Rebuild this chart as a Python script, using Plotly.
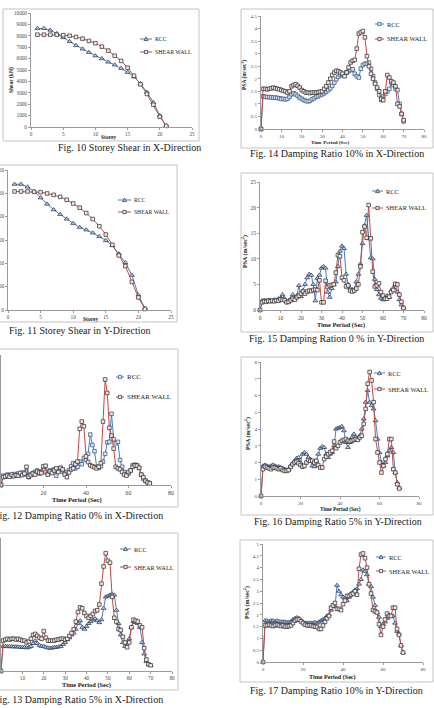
import plotly.graph_objects as go

W, H = 434, 708


def fx(p):
    return p / W


def fy(p):
    return 1 - p / H


# ---------------- DATA ----------------
STOREY = [1, 2, 3, 4, 5, 6, 7, 8, 9, 10, 11, 12, 13, 14, 15, 16, 17, 18, 19, 20, 21]
SHEAR_X_RCC = [8650, 8650, 8500, 8200, 7850, 7500, 7150, 6850, 6550, 6250, 6000,
               5700, 5450, 5150, 4800, 4400, 3800, 3050, 2150, 1000, 100]
SHEAR_X_SW = [8100, 8100, 8100, 8100, 8050, 8000, 7900, 7750, 7550, 7350, 7050,
              6700, 6250, 5800, 5200, 4500, 3750, 2900, 1950, 900, 100]
SHEAR_Y_RCC = [10780, 10780, 10550, 10160, 9620, 9080, 8600, 8200, 7800, 7430, 7090,
               6870, 6610, 6300, 5960, 5530, 4820, 4060, 2980, 1280, 140]
SHEAR_Y_SW = [10160, 10160, 10160, 10130, 10100, 9990, 9870, 9700, 9450, 9130, 8770,
              8310, 7800, 7180, 6470, 5590, 4680, 3770, 2410, 1080, 90]

TIME = list(range(0, 71))

# Fig. 12  damping 0 %, X direction
PSA_X0_RCC = [0,
              1.8, 1.6, 2.0, 1.9, 1.7, 2.1, 1.8, 2.2, 1.9, 2.4,
              2.0, 2.6, 1.5, 2.0, 2.3, 2.5, 2.8, 2.2, 2.6, 2.9,
              2.5, 2.2, 2.8, 2.7, 3.0, 1.8, 3.0, 3.3, 2.6, 2.2,
              2.5, 2.8, 3.6, 4.2, 3.2, 3.5, 4.5, 4.0, 5.2, 4.8,
              6.0, 9.7, 7.7, 6.5, 3.5, 3.3, 3.6, 4.5, 6.0, 8.2,
              8.3, 13.7, 8.8, 8.0, 8.3, 4.8, 3.5, 2.5, 2.0, 2.2,
              2.8, 3.8, 3.9, 3.8, 3.3, 2.0, 1.2, 0.8, 0.5, 0.3]
PSA_X0_SW = [0,
             1.5, 1.6, 1.8, 1.6, 2.0, 1.7, 1.9, 1.8, 2.3, 1.9,
             2.2, 3.5, 1.6, 1.9, 2.2, 2.0, 2.6, 2.4, 2.3, 3.6,
             3.7, 2.0, 2.6, 2.3, 2.8, 3.2, 2.5, 3.3, 3.0, 2.0,
             1.5, 2.4, 3.0, 3.2, 4.0, 4.5, 10.8, 12.2, 11.3, 5.5,
             4.4, 3.8, 3.6, 3.4, 3.2, 3.5, 4.2, 12.2, 20.3, 17.7,
             11.0, 9.5, 7.0, 3.5, 3.2, 3.0, 2.5, 2.0, 1.8, 2.5,
             2.8, 3.5, 3.8, 3.7, 3.3, 2.0, 1.5, 0.8, 0.5, 0.3]

# Fig. 13  damping 5 %, X direction
PSA_X5_RCC = [0,
              1.3, 1.3, 1.28, 1.3, 1.28, 1.27, 1.28, 1.27, 1.25, 1.25,
              1.25, 1.22, 1.25, 1.3, 1.45, 1.6, 1.45, 1.35, 1.3, 1.3,
              1.25, 1.22, 1.2, 1.22, 1.25, 1.25, 1.28, 1.3, 1.4, 1.5,
              1.65, 1.75, 1.9, 2.0, 2.2, 2.5, 2.65, 2.3, 2.2, 2.35,
              2.5, 2.6, 2.7, 2.75, 2.65, 2.55, 2.7, 3.3, 3.9, 3.95,
              4.0, 4.05, 4.0, 3.2, 2.5, 1.9, 1.5, 1.3, 1.5, 1.7,
              2.3, 2.6, 2.55, 2.5, 2.3, 1.5, 0.9, 0.5, 0.35, 0.3]
PSA_X5_SW = [0,
             1.6, 1.65, 1.7, 1.65, 1.7, 1.7, 1.65, 1.7, 1.65, 1.6,
             1.6, 1.5, 1.55, 1.7, 1.9, 1.95, 1.85, 1.75, 1.7, 2.1,
             1.75, 1.6, 1.6, 1.6, 1.6, 1.65, 1.65, 1.7, 1.7, 1.65,
             1.7, 1.85, 2.0, 2.2, 2.6, 3.1, 3.35, 3.3, 3.05, 2.9,
             2.8, 2.9, 3.0, 3.15, 3.2, 3.5, 4.6, 5.5, 6.2, 5.8,
             5.7, 3.9, 2.8, 2.6, 2.2, 2.15, 1.8, 1.5, 1.25, 1.5,
             2.3, 2.7, 2.65, 2.6, 2.4, 2.3, 1.2, 0.6, 0.35, 0.3]

# Fig. 14  damping 10 %, X direction
PSA_X10_RCC = [0,
               1.30, 1.28, 1.27, 1.27, 1.26, 1.25, 1.25, 1.24, 1.22, 1.20,
               1.20, 1.18, 1.20, 1.28, 1.38, 1.42, 1.38, 1.32, 1.25, 1.20,
               1.15, 1.12, 1.10, 1.12, 1.18, 1.22, 1.28, 1.30, 1.35, 1.38,
               1.42, 1.48, 1.55, 1.62, 1.72, 1.85, 1.98, 2.08, 2.15, 2.15,
               2.18, 2.25, 2.30, 2.35, 2.38, 2.20, 2.10, 2.05, 2.40, 2.55,
               2.60, 2.60, 2.65, 2.40, 2.10, 1.85, 1.60, 1.35, 1.15, 1.30,
               1.40, 1.50, 1.60, 1.85, 1.75, 1.60, 1.55, 1.00, 0.60, 0.30]
PSA_X10_SW = [0,
              1.60, 1.60, 1.58, 1.60, 1.62, 1.65, 1.62, 1.60, 1.58, 1.55,
              1.52, 1.50, 1.45, 1.50, 1.70, 1.75, 1.78, 1.72, 1.65, 1.55,
              1.50, 1.45, 1.45, 1.43, 1.45, 1.45, 1.45, 1.47, 1.48, 1.50,
              1.60, 1.70, 1.85, 2.00, 2.15, 2.25, 2.32, 2.30, 2.25, 2.20,
              2.10, 2.25, 2.45, 2.65, 2.72, 2.75, 3.20, 3.80, 3.85, 3.90,
              3.65, 2.90, 2.50, 2.20, 2.00, 1.80, 1.65, 1.50, 1.20, 1.15,
              1.50, 2.15, 2.05, 1.90, 1.85, 1.70, 1.00, 0.90, 0.60, 0.35]

# Fig. 15  damping 0 %, Y direction
PSA_Y0_RCC = [0,
              1.8, 1.9, 1.8, 1.9, 1.9, 1.8, 2.0, 1.9, 2.2, 2.3,
              3.0, 2.2, 1.6, 1.8, 2.2, 3.0, 2.3, 2.8, 4.8, 2.6,
              3.8, 5.0, 6.3, 7.0, 6.8, 5.0, 1.8, 6.2, 6.8, 8.2,
              8.5, 8.2, 3.5, 2.5, 4.2, 5.0, 5.5, 8.5, 11.5, 12.5,
              12.0, 7.0, 5.0, 4.2, 4.0, 4.0, 5.5, 7.0, 9.0, 13.0,
              16.5, 18.5, 14.0, 10.2, 10.0, 6.0, 4.0, 3.0, 2.3, 2.0,
              2.2, 2.8, 2.5, 3.8, 4.3, 5.0, 3.5, 2.0, 1.0, 0.5]
PSA_Y0_SW = [0,
             1.5, 1.7, 1.6, 1.8, 1.7, 1.8, 1.7, 1.9, 1.8, 2.1,
             2.0, 1.9, 1.5, 1.6, 1.9, 2.2, 2.0, 2.5, 2.8, 3.2,
             3.6, 3.2, 3.6, 3.8, 3.7, 3.9, 4.0, 3.9, 5.8, 1.5,
             1.5, 5.7, 4.5, 4.8, 4.9, 5.0, 7.3, 10.7, 10.5, 6.3,
             5.8, 4.6, 4.8, 3.8, 3.6, 3.8, 4.2, 5.0, 8.5, 15.2,
             16.3, 14.1, 20.5, 14.0, 7.5, 4.6, 4.8, 5.2, 3.5, 2.8,
             2.2, 2.2, 2.6, 3.5, 3.9, 5.1, 5.0, 3.0, 1.6, 0.4]

# Fig. 16  damping 5 %, Y direction
PSA_Y5_RCC = [0,
              1.8, 1.85, 1.8, 1.75, 1.8, 1.85, 1.8, 1.75, 1.75, 1.7,
              1.65, 1.6, 1.55, 1.6, 1.8, 1.95, 2.1, 2.25, 2.3, 2.0,
              2.5, 2.6, 2.5, 2.3, 2.2, 1.8, 1.75, 2.1, 2.5, 2.85,
              2.95, 2.9, 2.5, 2.3, 2.5, 2.6, 3.0, 4.0, 4.05, 4.1,
              4.15, 3.9, 3.2, 2.9, 3.2, 3.5, 3.7, 3.5, 3.4, 3.6,
              4.0, 4.6, 5.6, 6.3, 5.6, 5.4, 5.2, 4.5, 3.4, 2.6,
              2.0, 1.8, 2.0, 2.4, 2.7, 2.9, 2.6, 1.4, 0.8, 0.5]
PSA_Y5_SW = [0,
             1.6, 1.75, 1.7, 1.65, 1.6, 1.7, 1.7, 1.65, 1.6, 1.65,
             1.55, 1.5, 1.5, 1.55, 1.75, 1.9, 2.0, 2.05, 1.95, 1.85,
             1.75, 1.8, 2.0, 2.15, 2.1, 2.1, 2.0, 2.1, 1.85, 1.7,
             1.7, 2.2, 2.35, 2.5, 2.6, 2.7, 3.25, 2.85, 3.0, 3.2,
             3.3, 3.35, 3.4, 3.3, 3.25, 3.3, 3.35, 3.4, 3.35, 3.5,
             3.6, 4.3, 5.2, 6.7, 7.4, 6.9, 5.6, 3.4, 2.6, 2.0,
             1.4, 1.8, 2.2, 2.5, 3.4, 3.4, 1.6, 1.4, 0.7, 0.45]

# Fig. 17  damping 10 %, Y direction
PSA_Y10_RCC = [0,
               1.75, 1.75, 1.72, 1.75, 1.75, 1.72, 1.75, 1.72, 1.70, 1.70,
               1.70, 1.68, 1.68, 1.70, 1.80, 1.85, 1.88, 1.85, 1.75, 1.70,
               1.65, 1.65, 1.65, 1.65, 1.65, 1.68, 1.65, 1.70, 1.75, 1.80,
               1.85, 1.95, 2.00, 2.20, 2.40, 2.35, 3.25, 3.00, 2.85, 2.75,
               2.70, 2.60, 2.75, 2.90, 2.95, 3.05, 3.10, 3.30, 3.50, 3.90,
               3.85, 3.70, 3.30, 3.20, 2.75, 2.40, 2.10, 1.90, 1.50, 1.60,
               1.70, 1.85, 2.00, 1.95, 1.95, 1.65, 1.30, 1.20, 0.70, 0.40]
PSA_Y10_SW = [0,
              1.55, 1.55, 1.58, 1.55, 1.52, 1.55, 1.58, 1.55, 1.52, 1.55,
              1.50, 1.50, 1.52, 1.55, 1.65, 1.75, 1.80, 1.80, 1.72, 1.65,
              1.58, 1.55, 1.55, 1.55, 1.52, 1.50, 1.48, 1.40, 1.40, 1.55,
              1.70, 1.85, 1.95, 2.30, 2.40, 2.50, 2.25, 2.25, 2.20, 2.45,
              2.60, 2.80, 2.80, 2.85, 2.90, 3.00, 2.85, 3.95, 4.55, 4.60,
              4.40, 4.00, 3.30, 2.90, 2.20, 2.15, 2.10, 1.60, 1.15, 1.50,
              1.80, 2.05, 1.95, 1.95, 2.30, 2.30, 1.40, 1.15, 0.70, 0.40]

SERIES_NAMES = ["RCC", "SHEAR WALL"]

# ---------------- STYLE ----------------
BLUE = "#4a7ebb"
RED = "#be4b48"
SERIF = "Liberation Serif"
AXIS_COL = "#9a9a9a"
FRAME_COL = "#c4c4c4"
TXT = "#1a1a1a"

PSA_TITLE = "<b>PSA (m/sec<sup>2</sup>)</b>"
TP_TITLE = "<b>Time Period (Sec)</b>"

panels = [
    dict(x=STOREY, rcc=SHEAR_X_RCC, sw=SHEAR_X_SW, xr=[0, 25], xd=5, yr=[0, 10000], yd=1000,
         box=(31, 192, 13, 127), frame=(3, 199, 9, 141),
         cap="Fig. 10 Storey Shear in X-Direction", cap_pos=(129, 147, "center"),
         xt="<b>Storey</b>", xt_pos=(108, 137), xt_size=5.5,
         yt="<b>Shear (kN)</b>", yt_pos=(12, 80), yt_size=5.5,
         leg=(140, 152, 39, 52), leg_size=5.8, rsym="triangle-up", tick=5.2),
    dict(x=TIME, rcc=PSA_X10_RCC, sw=PSA_X10_SW, xr=[0, 80], xd=10, yr=[0, 4.5], yd=0.5,
         box=(261, 424, 16, 129), frame=(241, 433, 9, 148),
         cap="Fig. 14 Damping Ratio 10% in X-Direction", cap_pos=(337, 154, "center"),
         xt=TP_TITLE, xt_pos=(330, 142), xt_size=5,
         yt=PSA_TITLE, yt_pos=(245, 75), yt_size=5.5,
         leg=(375, 384, 24, 39), leg_size=6.4, rsym="square", tick=5),
    dict(x=STOREY, rcc=SHEAR_Y_RCC, sw=SHEAR_Y_SW, xr=[0, 25], xd=5, yr=[0, 12000], yd=2000,
         box=(8, 171, 170, 310), frame=(-5, 177, 165, 322),
         cap="Fig. 11 Storey Shear in Y-Direction", cap_pos=(79, 330, "center"),
         xt="<b>Storey</b>", xt_pos=(90, 319), xt_size=5.5,
         yt=None, yt_pos=None, yt_size=5.5,
         leg=(118, 131, 200, 212), leg_size=5.6, rsym="triangle-up", tick=5.2),
    dict(x=TIME, rcc=PSA_Y0_RCC, sw=PSA_Y0_SW, xr=[0, 80], xd=10, yr=[0, 25], yd=5,
         box=(260, 424, 182, 310), frame=(241, 433, 173, 332),
         cap="Fig. 15 Damping Ration 0 % in Y-Direction", cap_pos=(336, 338, "center"),
         xt=TP_TITLE, xt_pos=(341, 325), xt_size=6.3,
         yt=PSA_TITLE, yt_pos=(245, 252), yt_size=6,
         leg=(372, 383, 191, 208), leg_size=6.4, rsym="triangle-up", tick=5.5),
    dict(x=TIME, rcc=PSA_X0_RCC, sw=PSA_X0_SW, xr=[0, 80], xd=20, yr=[0, 25], yd=5,
         box=(1, 171, 355, 485), frame=(-5, 178, 349, 507),
         cap="Fig. 12 Damping Ratio 0% in X-Direction", cap_pos=(165, 515, "right"),
         xt=TP_TITLE, xt_pos=(77, 500), xt_size=6.5,
         yt=None, yt_pos=None, yt_size=6,
         leg=(116, 124, 377, 397), leg_size=7, rsym="square", tick=5.8),
    dict(x=TIME, rcc=PSA_Y5_RCC, sw=PSA_Y5_SW, xr=[0, 80], xd=20, yr=[0, 8], yd=1,
         box=(261, 419, 362, 496), frame=(241, 433, 357, 515),
         cap="Fig. 16 Damping Ratio 5% in Y-Direction", cap_pos=(338, 521, "center"),
         xt=TP_TITLE, xt_pos=(340, 509), xt_size=5.3,
         yt=PSA_TITLE, yt_pos=(248, 434), yt_size=6,
         leg=(374, 385, 373, 389), leg_size=6.4, rsym="triangle-up", tick=5),
    dict(x=TIME, rcc=PSA_X5_RCC, sw=PSA_X5_SW, xr=[0, 80], xd=10, yr=[0, 7], yd=1,
         box=(1, 172, 538, 671), frame=(-5, 178, 533, 690),
         cap="Fig. 13 Damping Ratio 5% in X-Direction", cap_pos=(165, 699, "right"),
         xt=TP_TITLE, xt_pos=(86, 685), xt_size=6.4,
         yt=None, yt_pos=None, yt_size=6,
         leg=(120, 131, 549, 567), leg_size=6.3, rsym="triangle-up", tick=5.2),
    dict(x=TIME, rcc=PSA_Y10_RCC, sw=PSA_Y10_SW, xr=[0, 80], xd=20, yr=[0, 5], yd=0.5,
         box=(263, 423, 544, 662), frame=(240, 433, 540, 682),
         cap="Fig. 17 Damping Ratio 10% in Y-Direction", cap_pos=(336, 690, "center"),
         xt=TP_TITLE, xt_pos=(332, 677), xt_size=6.1,
         yt=PSA_TITLE, yt_pos=(246, 603), yt_size=6,
         leg=(376, 386, 557, 571), leg_size=6.4, rsym="triangle-up", tick=5),
]

fig = go.Figure()
layout = {}
shapes = []
annotations = []


def marker_style(kind, sym):
    if kind == "rcc":
        if sym == "square":
            return dict(symbol="square", size=3.6, color="#dbe5f1",
                        line=dict(color="#2f4f7f", width=0.7))
        return dict(symbol="triangle-up", size=4.3, color="#b8cce4",
                    line=dict(color="#1f2f4f", width=0.7))
    return dict(symbol="square", size=3.6, color="#f6e6e6",
                line=dict(color="#2a2a2a", width=0.7))


for i, p in enumerate(panels, start=1):
    sx = "" if i == 1 else str(i)
    xa, ya = "x" + sx, "y" + sx
    x0, x1, y0, y1 = p["box"]
    for kind, vals, col, name in (("rcc", p["rcc"], BLUE, SERIES_NAMES[0]),
                                  ("sw", p["sw"], RED, SERIES_NAMES[1])):
        fig.add_trace(go.Scatter(
            x=p["x"], y=vals, xaxis=xa, yaxis=ya, name=name, showlegend=False,
            mode="lines+markers", cliponaxis=False,
            line=dict(color=col, width=1.0),
            marker=marker_style(kind, p["rsym"]),
        ))
    common = dict(showgrid=False, zeroline=False, showline=True, linecolor=AXIS_COL,
                  linewidth=1, ticks="outside", ticklen=2, tickwidth=1, tickcolor=AXIS_COL,
                  tickfont=dict(family=SERIF, size=p["tick"], color="#444444"),
                  fixedrange=True, automargin=False)
    layout["xaxis" + sx] = dict(domain=[fx(x0), fx(x1)], range=p["xr"], tick0=0, dtick=p["xd"],
                                anchor=ya, **common)
    yaxis = dict(domain=[fy(y1), fy(y0)], range=p["yr"], tick0=0, dtick=p["yd"],
                 anchor=xa, **common)
    if p["yd"] >= 1000:
        yaxis["tickformat"] = "d"
    layout["yaxis" + sx] = yaxis
    # chart area frame
    fx0, fx1, fy0, fy1 = p["frame"]
    shapes.append(dict(type="rect", xref="paper", yref="paper", x0=fx(fx0), x1=fx(fx1),
                       y0=fy(fy1), y1=fy(fy0), line=dict(color=FRAME_COL, width=1),
                       fillcolor="rgba(0,0,0,0)", layer="below"))
    # caption
    cx, cy, anc = p["cap_pos"]
    annotations.append(dict(text=p["cap"], x=fx(cx), y=fy(cy), xref="paper", yref="paper",
                            xanchor=anc, yanchor="middle", showarrow=False,
                            font=dict(family=SERIF, size=10, color=TXT)))
    # axis titles
    annotations.append(dict(text=p["xt"], x=fx(p["xt_pos"][0]), y=fy(p["xt_pos"][1]),
                            xref="paper", yref="paper", xanchor="center", yanchor="middle",
                            showarrow=False, font=dict(family=SERIF, size=p["xt_size"], color=TXT)))
    if p["yt"]:
        annotations.append(dict(text=p["yt"], x=fx(p["yt_pos"][0]), y=fy(p["yt_pos"][1]),
                                xref="paper", yref="paper", xanchor="center", yanchor="middle",
                                textangle=-90, showarrow=False,
                                font=dict(family=SERIF, size=p["yt_size"], color=TXT)))
    # legend (drawn)
    lx0, lx1, ly_r, ly_s = p["leg"]
    for kind, ly, col, name in (("rcc", ly_r, BLUE, SERIES_NAMES[0]),
                                ("sw", ly_s, RED, SERIES_NAMES[1])):
        shapes.append(dict(type="line", xref="paper", yref="paper", x0=fx(lx0), x1=fx(lx1),
                           y0=fy(ly), y1=fy(ly), line=dict(color=col, width=1.0)))
        mx = (lx0 + lx1) / 2
        ms = marker_style(kind, p["rsym"])
        if ms["symbol"] == "square":
            shapes.append(dict(type="rect", xref="paper", yref="paper",
                               x0=fx(mx - 1.6), x1=fx(mx + 1.6), y0=fy(ly + 1.6), y1=fy(ly - 1.6),
                               fillcolor=ms["color"], line=dict(color=ms["line"]["color"], width=0.7)))
        else:
            path = "M {:.5f} {:.5f} L {:.5f} {:.5f} L {:.5f} {:.5f} Z".format(
                fx(mx - 2.0), fy(ly + 1.6), fx(mx + 2.0), fy(ly + 1.6), fx(mx), fy(ly - 2.0))
            shapes.append(dict(type="path", xref="paper", yref="paper", path=path,
                               fillcolor=ms["color"], line=dict(color=ms["line"]["color"], width=0.7)))
        annotations.append(dict(text=name, x=fx(lx1 + 1), y=fy(ly), xref="paper", yref="paper",
                                xanchor="left", yanchor="middle", showarrow=False,
                                font=dict(family=SERIF, size=p["leg_size"], color=TXT)))

fig.update_layout(
    width=W, height=H, margin=dict(l=0, r=0, t=0, b=0, pad=0, autoexpand=False),
    paper_bgcolor="white", plot_bgcolor="white", showlegend=False,
    shapes=shapes, annotations=annotations, **layout,
)

fig.write_html("out.html", config={"displayModeBar": False, "staticPlot": True})
